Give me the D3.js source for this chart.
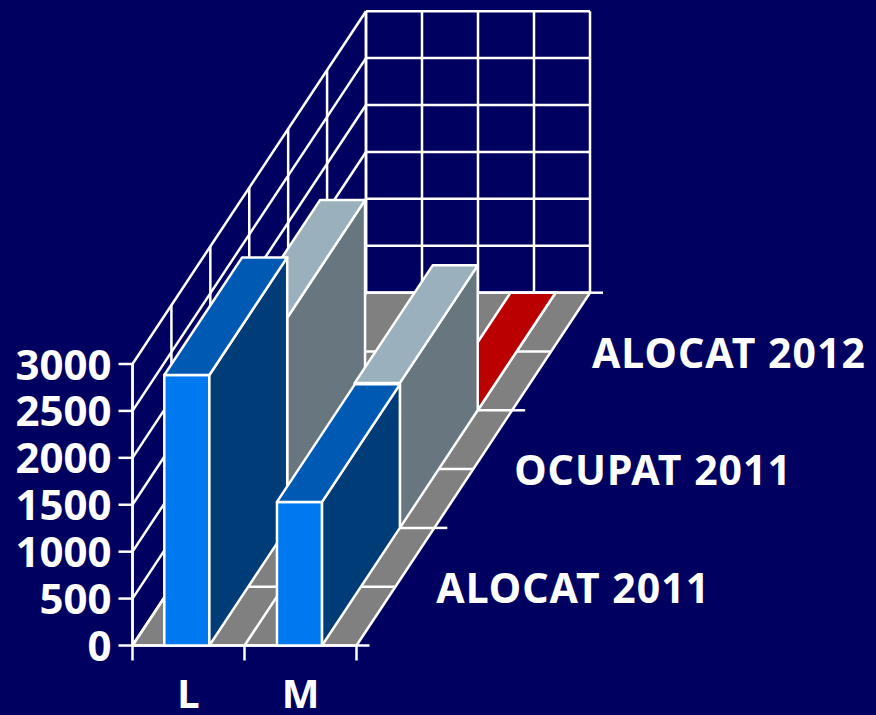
<!DOCTYPE html>
<html>
<head>
<meta charset="utf-8">
<script src="https://cdn.jsdelivr.net/npm/d3@7"></script>
<style>
  html, body { margin: 0; padding: 0; background: #000060; }
  svg { display: block; }
  text { font-family: "Noto Sans", sans-serif; font-weight: bold; fill: #fff; }
</style>
</head>
<body>
<div id="chart"></div>
<script>
var categories = ["L", "M"];
var seriesNames = ["ALOCAT 2011", "OCUPAT 2011", "ALOCAT 2012"];
var alocat2011 = [2883, 1530];
var ocupat2011 = [2240, 1545];
var alocat2012 = [null, 0];
var valueTicks = [0, 500, 1000, 1500, 2000, 2500, 3000];

var seriesValues = [alocat2011, ocupat2011, alocat2012];
// front, top, side
var seriesColors = [
  ["#0078f0", "#005ab4", "#003c78"],
  ["#cee9fd", "#9bb0bd", "#67767f"],
  ["#ff0000", "#bb0000", "#800000"]
];

var width = 876,
    height = 715,
    origin = {x: 132.5, y: 645.5},
    plotWidth = 224,
    plotHeight = 281.5,
    depthX = 233.5,
    depthY = -352.8,
    strokeW = 2.5;

var svg = d3.select("#chart").append("svg")
    .attr("width", width)
    .attr("height", height);

var xScale = d3.scaleBand().domain(categories).range([0, plotWidth])
    .paddingInner(0.6).paddingOuter(0.294).align(0.48);
var xEdge = d3.scaleLinear().domain([0, categories.length]).range([0, plotWidth]);
var yScale = d3.scaleLinear().domain([0, 3000]).range([0, plotHeight]);
var zX = d3.scaleLinear().domain([0, 3]).range([0, depthX]);
var zY = d3.scaleLinear().domain([0, 3]).range([0, depthY]);

// x along the categories, v the value, z the depth in series
function project(x, v, z) {
  return [origin.x + x + zX(z), origin.y - yScale(v) + zY(z)];
}

var line = d3.line();

function strokeLine(g, pts) {
  return g.append("path").attr("d", line(pts))
    .attr("fill", "none").attr("stroke", "#fff").attr("stroke-width", strokeW);
}

function face(g, pts, color) {
  return g.append("path").attr("d", line(pts) + "Z")
    .attr("fill", color).attr("stroke", "#fff").attr("stroke-width", strokeW)
    .attr("stroke-linejoin", "round");
}

var walls = svg.append("g").attr("class", "walls");
var depthHalf = d3.range(0, 3.5, 0.5);
var yMax = valueTicks[valueTicks.length - 1];

// floor
face(walls, [project(0, 0, 0), project(plotWidth, 0, 0), project(plotWidth, 0, 3), project(0, 0, 3)], "#808080");
depthHalf.forEach(function(z) {
  strokeLine(walls, [project(0, 0, z), project(plotWidth, 0, z)]);
});
strokeLine(walls, [project(xEdge(1), 0, 0), project(xEdge(1), 0, 3)]);

// left wall
valueTicks.forEach(function(v) {
  strokeLine(walls, [project(0, v, 0), project(0, v, 3)]);
});
depthHalf.forEach(function(z) {
  strokeLine(walls, [project(0, 0, z), project(0, yMax, z)]);
});

// back wall
valueTicks.forEach(function(v) {
  strokeLine(walls, [project(0, v, 3), project(plotWidth, v, 3)]);
});
d3.range(0, 2.5, 0.5).forEach(function(c) {
  strokeLine(walls, [project(xEdge(c), 0, 3), project(xEdge(c), yMax, 3)]);
});

// depth ticks on the right side of the floor
d3.range(0, 4).forEach(function(z) {
  var p = project(plotWidth, 0, z);
  strokeLine(walls, [p, [p[0] + 13, p[1]]]);
});

// bars, back series first, then left to right
var bars = svg.append("g").attr("class", "bars");
d3.range(seriesValues.length - 1, -1, -1).forEach(function(s) {
  categories.forEach(function(c, i) {
    var v = seriesValues[s][i];
    if (v === null) return;
    var x0 = xScale(c), x1 = x0 + xScale.bandwidth();
    var colors = seriesColors[s];
    face(bars, [project(x0, 0, s), project(x1, 0, s), project(x1, v, s), project(x0, v, s)], colors[0]);
    face(bars, [project(x1, 0, s), project(x1, 0, s + 1), project(x1, v, s + 1), project(x1, v, s)], colors[2]);
    face(bars, [project(x0, v, s), project(x1, v, s), project(x1, v, s + 1), project(x0, v, s + 1)], colors[1]);
  });
});

// value axis
var yAxisScale = d3.scaleLinear().domain([0, 3000]).range([origin.y, origin.y - plotHeight]);
var yAxis = svg.append("g")
    .attr("transform", "translate(" + origin.x + ",0)")
    .call(d3.axisLeft(yAxisScale).offset(0).tickValues(valueTicks).tickSize(14).tickSizeOuter(0)
      .tickPadding(7).tickFormat(d3.format("d")));
yAxis.select(".domain").attr("stroke", "#fff").attr("stroke-width", strokeW);
yAxis.selectAll(".tick line").attr("stroke", "#fff").attr("stroke-width", strokeW);
yAxis.selectAll("text").attr("font-size", 42).attr("font-family", null).attr("fill", null).attr("dy", "0.37em");

// category axis
var xTickScale = d3.scaleLinear().domain([0, 2]).range([origin.x, origin.x + plotWidth]);
var xAxis = svg.append("g")
    .attr("transform", "translate(0," + origin.y + ")")
    .call(d3.axisBottom(xTickScale).offset(0).tickValues([0, 1, 2]).tickSize(15).tickFormat(""));
xAxis.select(".domain").remove();
xAxis.selectAll(".tick line").attr("stroke", "#fff").attr("stroke-width", strokeW);

svg.selectAll(".category").data(categories).enter().append("text")
    .attr("class", "category")
    .attr("x", function(d, i) { return origin.x + xEdge(i + 0.5); })
    .attr("y", 708)
    .attr("text-anchor", "middle")
    .attr("font-size", 40)
    .text(function(d) { return d; });

svg.selectAll(".series").data(seriesNames).enter().append("text")
    .attr("class", "series")
    .attr("x", function(d, i) { return project(plotWidth, 0, i + 1)[0] + 2; })
    .attr("y", function(d, i) { return project(plotWidth, 0, i + 1)[1] + 75; })
    .attr("font-size", 41)
    .attr("letter-spacing", 1)
    .text(function(d) { return d; });
</script>
</body>
</html>
